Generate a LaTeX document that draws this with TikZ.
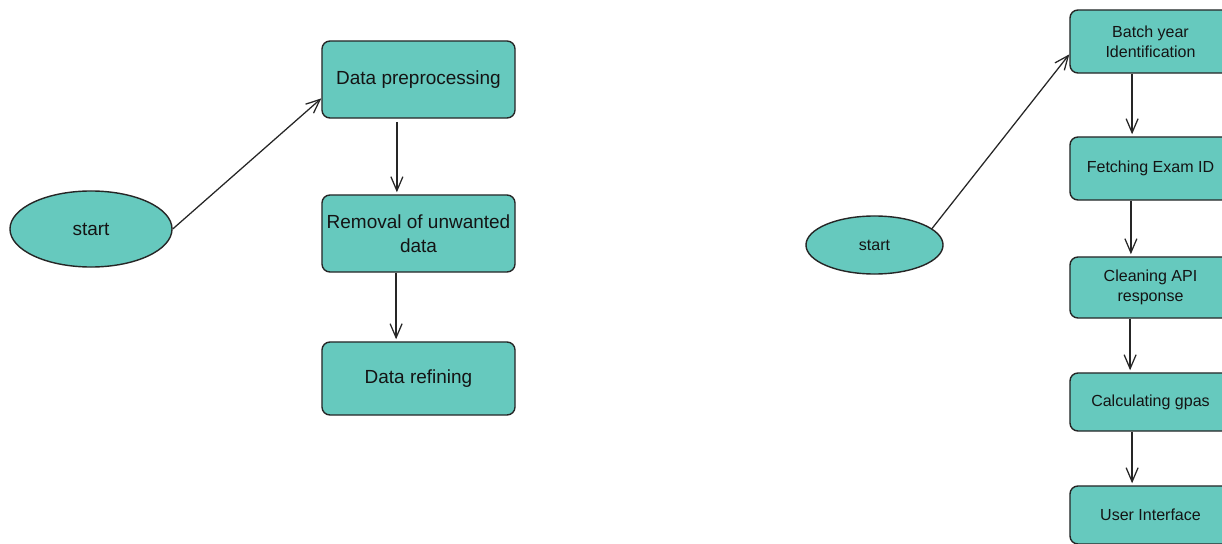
\documentclass[tikz,border=0pt]{standalone}
\usepackage{fontspec}
\setmainfont{Liberation Sans}
\usetikzlibrary{arrows.meta,shapes.geometric}
\definecolor{boxfill}{RGB}{102,201,190}
\definecolor{textdark}{RGB}{20,20,20}
\begin{document}
\begin{tikzpicture}[x=0.025cm,y=-0.025cm]
    \tikzstyle{block} = [rectangle,rounded corners=2mm,draw=black!85,line width=1pt,fill=boxfill,text=textdark,inner sep=1pt,align=center]
    \tikzstyle{bigblock} = [block,minimum width=4.825cm,font=\fontsize{13.5}{17}\selectfont]
    \tikzstyle{smallblock} = [block,minimum width=4.025cm,font=\fontsize{11.4}{14.2}\selectfont]
    \tikzstyle{terminal} = [ellipse,draw=black!85,line width=1pt,fill=boxfill,text=textdark,inner sep=0pt]
    \tikzstyle{flow} = [-{Straight Barb[length=3.5mm,width=3mm]},line width=0.9pt,draw=black!85]
    \clip (0,0) rectangle (1222,544);
    % left chart
    \node (startA)[terminal,minimum width=4.05cm,minimum height=1.9cm,font=\fontsize{13.5}{17}\selectfont] at (91,229){start};
    \node (prep)[bigblock,minimum height=1.925cm] at (418.5,79.5){Data preprocessing};
    \node (removal)[bigblock,minimum height=1.925cm] at (418.5,233.5){Removal of unwanted\\data};
    \node (refine)[bigblock,minimum height=1.825cm] at (418.5,378.5){Data refining};
    \draw [flow] (startA.east) -- (prep.191);
    \draw [flow] ([xshift=-0.54cm,yshift=-0.08cm]prep.south) -- ([xshift=-0.54cm,yshift=0.05cm]removal.north);
    \draw [flow] ([xshift=-0.56cm]removal.south) -- ([xshift=-0.56cm,yshift=0.05cm]refine.north);
    % right chart (boxes run past the right edge)
    \node (startB)[terminal,minimum width=3.425cm,minimum height=1.45cm,font=\fontsize{11.4}{14.2}\selectfont] at (874.5,245){start};
    \node (batch)[smallblock,minimum height=1.575cm] at (1150.5,41.5){Batch year\\Identification};
    \node (fetch)[smallblock,minimum height=1.575cm] at (1150.5,168.5){Fetching Exam ID};
    \node (clean)[smallblock,minimum height=1.525cm] at (1150.5,287.5){Cleaning API\\response};
    \node (gpa)[smallblock,minimum height=1.45cm] at (1150.5,402){Calculating gpas};
    \node (ui)[smallblock,minimum height=1.45cm] at (1150.5,515){User Interface};
    \draw [flow] (startB.16) -- (batch.189);
    \draw [flow] ([xshift=-0.46cm]batch.south) -- ([xshift=-0.46cm,yshift=0.05cm]fetch.north);
    \draw [flow] ([xshift=-0.49cm]fetch.south) -- ([xshift=-0.49cm,yshift=0.05cm]clean.north);
    \draw [flow] ([xshift=-0.51cm]clean.south) -- ([xshift=-0.51cm,yshift=0.05cm]gpa.north);
    \draw [flow] ([xshift=-0.46cm]gpa.south) -- ([xshift=-0.46cm,yshift=0.05cm]ui.north);
\end{tikzpicture}
\end{document}
